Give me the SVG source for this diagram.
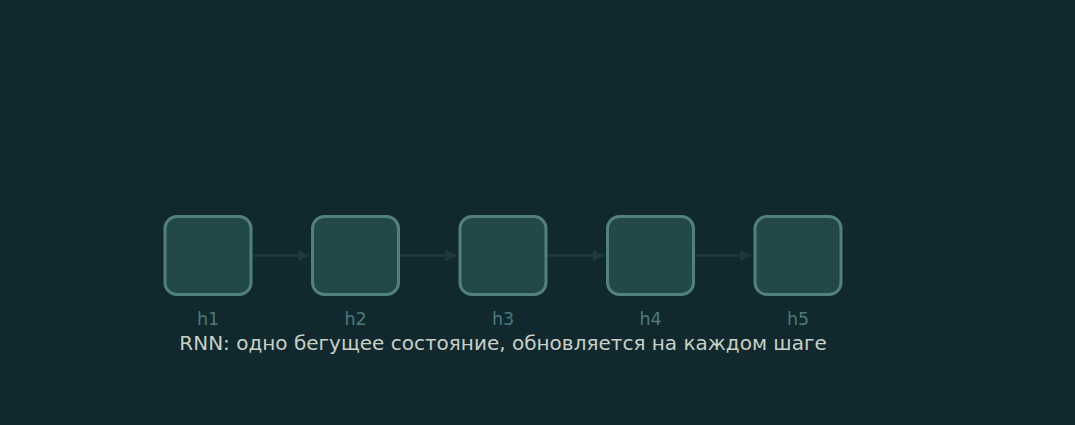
<svg xmlns="http://www.w3.org/2000/svg" width="1075" height="425" viewBox="0 0 1075 425">
<defs>
<style>
.box{fill:#224848;stroke:#51807d;stroke-width:3}
.lbl{font-family:"DejaVu Sans",sans-serif;font-size:17.5px;fill:#4d7a78;text-anchor:middle}
.cap{font-family:"DejaVu Sans",sans-serif;font-size:20px;fill:#c8d0c6;text-anchor:middle}
.edge{stroke:#1d3a3b;stroke-width:2.5;fill:none}
</style>
<marker id="arr" viewBox="0 0 10 10" refX="10" refY="5" markerWidth="4.6" markerHeight="4.6" orient="auto" markerUnits="strokeWidth">
<path d="M0,0 L10,5 L0,10 z" fill="#1d3a3b"/>
</marker>
</defs>
<rect width="1075" height="425" fill="#11292e"/>
<g id="connectors">
<line class="edge" x1="252" y1="255.5" x2="309" y2="255.5" marker-end="url(#arr)"/>
<line class="edge" x1="399.5" y1="255.5" x2="456.5" y2="255.5" marker-end="url(#arr)"/>
<line class="edge" x1="547" y1="255.5" x2="604" y2="255.5" marker-end="url(#arr)"/>
<line class="edge" x1="694.5" y1="255.5" x2="751.5" y2="255.5" marker-end="url(#arr)"/>
</g>
<g id="h1"><rect class="box" x="165" y="216.5" width="86" height="78" rx="12"/><text class="lbl" x="208" y="325">h1</text></g>
<g id="h2"><rect class="box" x="312.5" y="216.5" width="86" height="78" rx="12"/><text class="lbl" x="355.5" y="325">h2</text></g>
<g id="h3"><rect class="box" x="460" y="216.5" width="86" height="78" rx="12"/><text class="lbl" x="503" y="325">h3</text></g>
<g id="h4"><rect class="box" x="607.5" y="216.5" width="86" height="78" rx="12"/><text class="lbl" x="650.5" y="325">h4</text></g>
<g id="h5"><rect class="box" x="755" y="216.5" width="86" height="78" rx="12"/><text class="lbl" x="798" y="325">h5</text></g>
<text class="cap" x="503" y="350">RNN: одно бегущее состояние, обновляется на каждом шаге</text>
</svg>
